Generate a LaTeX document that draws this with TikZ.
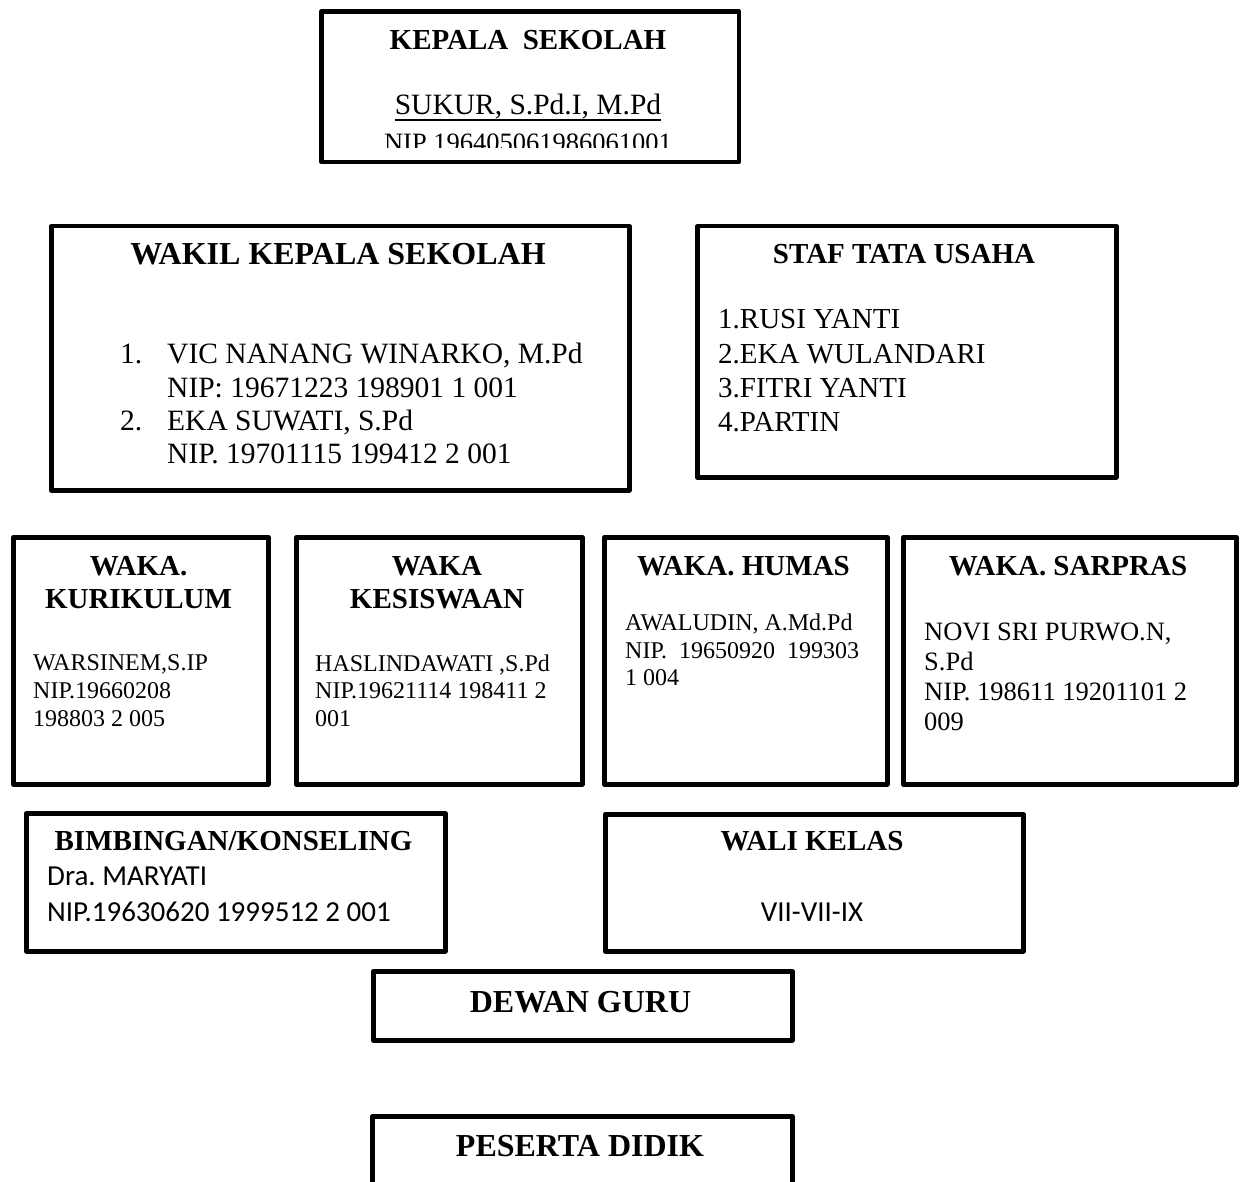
\documentclass[tikz,border=0pt]{standalone}
\usepackage{fontspec}
\setmainfont{Liberation Serif}
\newfontfamily\carlito{Carlito}
\frenchspacing
\tikzset{
  orgbox/.style={draw, line width=4.5pt, rectangle, inner sep=0pt, anchor=north west, line join=round},
  hb/.style={font=\fontsize{29}{34}\selectfont\bfseries, inner sep=0pt, anchor=base},
  hbig/.style={font=\fontsize{32}{38}\selectfont\bfseries, inner sep=0pt, anchor=base},
  tl/.style={font=\fontsize{29.5}{34}\selectfont, inner sep=0pt, anchor=base west},
  tm/.style={font=\fontsize{24}{28}\selectfont, inner sep=0pt, anchor=base west},
  ts/.style={font=\fontsize{26.5}{30}\selectfont, inner sep=0pt, anchor=base west},
  tc/.style={font=\fontsize{29}{34}\selectfont\carlito, inner sep=0pt, anchor=base west},
}
\begin{document}
\begin{tikzpicture}[x=1pt,y=-1pt]
\useasboundingbox (0,0) rectangle (1241,1182);
\clip (0,0) rectangle (1241,1182);
\fill[white] (0,0) rectangle (1241,1182);

% KEPALA SEKOLAH
\node[orgbox, minimum width=417.5pt, minimum height=150.5pt] (kepala) at (319.25,9.25) {};
\node[hb] (kepalaT) at (528,50) {KEPALA\ \ SEKOLAH};
\node[tl, anchor=base] (sukur) at (528,115) {SUKUR, S.Pd.I, M.Pd};
\draw[line width=1.6pt] ([yshift=-5pt]sukur.base west) -- ([yshift=-5pt]sukur.base east);
\begin{scope}
\clip (320,10) rectangle (736,147.5);
\node[ts, anchor=base] (kepalaNip) at (528,151.5) {NIP 196405061986061001};
\end{scope}

% WAKIL KEPALA SEKOLAH
\node[orgbox, minimum width=578pt, minimum height=264pt] (wakil) at (49,224) {};
\node[hbig] (wakilT) at (338,265) {WAKIL KEPALA SEKOLAH};
\node[tl] (wn1) at (120,363) {1.};
\node[tl] (wa1) at (167,363) {VIC NANANG WINARKO, M.Pd};
\node[tl] (wb1) at (167,397) {NIP: 19671223 198901 1 001};
\node[tl] (wn2) at (120,430) {2.};
\node[tl] (wa2) at (167,430) {EKA SUWATI, S.Pd};
\node[tl] (wb2) at (167,463) {NIP. 19701115 199412 2 001};

% STAF TATA USAHA
\node[orgbox, minimum width=419pt, minimum height=251pt] (staf) at (695,224) {};
\node[hb] (stafT) at (904,263) {STAF TATA USAHA};
\node[tl, font=\fontsize{29}{34}\selectfont] (s1) at (718,328) {1.RUSI YANTI};
\node[tl, font=\fontsize{29}{34}\selectfont] (s2) at (718,363) {2.EKA WULANDARI};
\node[tl, font=\fontsize{29}{34}\selectfont] (s3) at (718,397) {3.FITRI YANTI};
\node[tl, font=\fontsize{29}{34}\selectfont] (s4) at (718,431) {4.PARTIN};

% WAKA KURIKULUM
\node[orgbox, minimum width=255pt, minimum height=247pt] (kur) at (11,535) {};
\node[hb] (kurT1) at (138.5,575) {WAKA.};
\node[hb] (kurT2) at (138.5,608) {KURIKULUM};
\node[tm] (kur1) at (33,670) {WARSINEM,S.IP};
\node[tm] (kur2) at (33,698) {NIP.19660208};
\node[tm] (kur3) at (33,726) {198803 2 005};

% WAKA KESISWAAN
\node[orgbox, minimum width=286pt, minimum height=247pt] (kes) at (294,535) {};
\node[hb] (kesT1) at (437,575) {WAKA};
\node[hb] (kesT2) at (437,608) {KESISWAAN};
\node[tm] (kes1) at (315,671) {HASLINDAWATI ,S.Pd};
\node[tm] (kes2) at (315,698) {NIP.19621114 198411 2};
\node[tm] (kes3) at (315,726) {001};

% WAKA HUMAS
\node[orgbox, minimum width=283pt, minimum height=247pt] (hum) at (602,535) {};
\node[hb] (humT) at (743.5,575) {WAKA. HUMAS};
\node[tm] (hum1) at (625,630) {AWALUDIN, A.Md.Pd};
\node[tm] (hum2) at (625,658) {NIP.\ \ 19650920\ \ 199303};
\node[tm] (hum3) at (625,685) {1 004};

% WAKA SARPRAS
\node[orgbox, minimum width=333pt, minimum height=247pt] (sar) at (901,535) {};
\node[hb] (sarT) at (1068,575) {WAKA. SARPRAS};
\node[ts] (sar1) at (924,640) {NOVI SRI PURWO.N,};
\node[ts] (sar2) at (924,670) {S.Pd};
\node[ts] (sar3) at (924,700) {NIP. 198611 19201101 2};
\node[ts] (sar4) at (924,730) {009};

% BIMBINGAN/KONSELING
\node[orgbox, minimum width=419pt, minimum height=138pt] (bk) at (24,811) {};
\node[hb] (bkT) at (233.5,850) {BIMBINGAN/KONSELING};
\node[tc] (bk1) at (47,885) {Dra. MARYATI};
\node[tc] (bk2) at (47,921) {NIP.19630620 1999512 2 001};

% WALI KELAS
\node[orgbox, minimum width=418pt, minimum height=137pt] (wali) at (603,812) {};
\node[hb] (waliT) at (812,850) {WALI KELAS};
\node[tc, anchor=base] (wali1) at (812,921) {VII-VII-IX};

% DEWAN GURU
\node[orgbox, minimum width=419pt, minimum height=69pt] (dewan) at (371,969) {};
\node[hbig] (dewanT) at (580.5,1012) {DEWAN GURU};

% PESERTA DIDIK
\node[orgbox, minimum width=420pt, minimum height=100pt] (peserta) at (370,1114) {};
\node[hbig] (pesertaT) at (580,1156) {PESERTA DIDIK};
\end{tikzpicture}
\end{document}
